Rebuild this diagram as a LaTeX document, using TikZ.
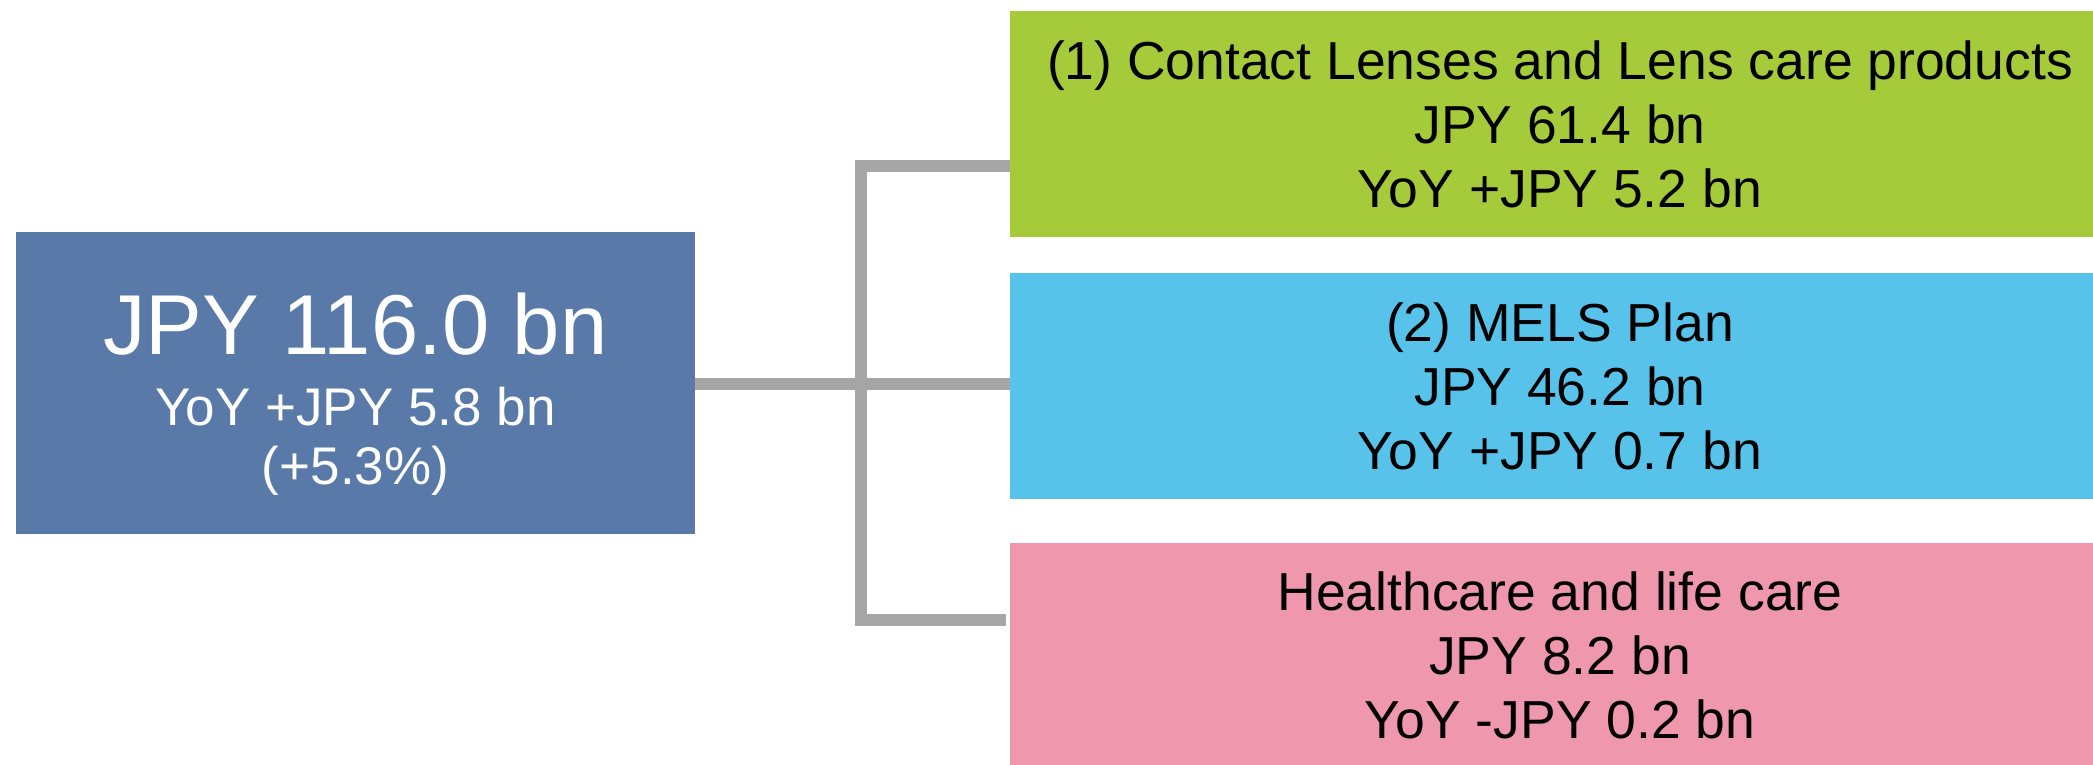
\documentclass[tikz,border=0pt]{standalone}
\usepackage{fontspec}
\setmainfont{Liberation Sans}
\usetikzlibrary{positioning}
\definecolor{tblue}{RGB}{89,121,168}
\definecolor{cgreen}{RGB}{166,203,58}
\definecolor{cblue}{RGB}{87,195,234}
\definecolor{cpink}{RGB}{239,151,173}
\definecolor{lgray}{RGB}{166,166,166}

\begin{document}
\begin{tikzpicture}[x=1pt, y=-1pt,
    totalbox/.style={fill=tblue, inner sep=0pt, minimum width=679pt, minimum height=302pt},
    totaltext/.style={text=white, align=center, inner sep=0pt, font=\fontsize{53}{59}\selectfont},
    seg/.style={inner sep=0pt, minimum width=1100pt, minimum height=226pt, align=center, font=\fontsize{53.5}{64}\selectfont},
    link/.style={draw=lgray, line width=12pt},
]
\useasboundingbox (0,0) rectangle (2093,765);
\clip (0,0) rectangle (2093,765);

\node[totalbox] (total) at (355.5,383) {};
\node[totaltext] (total-txt) at ([yshift=-11pt]total.center) {{\fontsize{85}{85}\selectfont JPY 116.0 bn}\\[12pt] YoY +JPY 5.8 bn\\ (+5.3\%)};

\node[seg, fill=cgreen] (lens) at (1560,124) {(1) Contact Lenses and Lens care products\\ JPY 61.4 bn\\ YoY +JPY 5.2 bn};
\node[seg, fill=cblue, below=36pt of lens] (mels) {(2) MELS Plan\\ JPY 46.2 bn\\ YoY +JPY 0.7 bn};
\node[seg, fill=cpink, below=43pt of mels] (care) {Healthcare and life care\\ JPY 8.2 bn\\ YoY -JPY 0.2 bn};

\coordinate (fork) at (861,384);
\coordinate (top-end) at (1010,166);
\coordinate (bot-end) at (1006,620);

\draw[link] (total.east |- fork) -- (mels.west |- fork);
\draw[link] (top-end) -| (fork |- bot-end) -- (bot-end);

\end{tikzpicture}
\end{document}
